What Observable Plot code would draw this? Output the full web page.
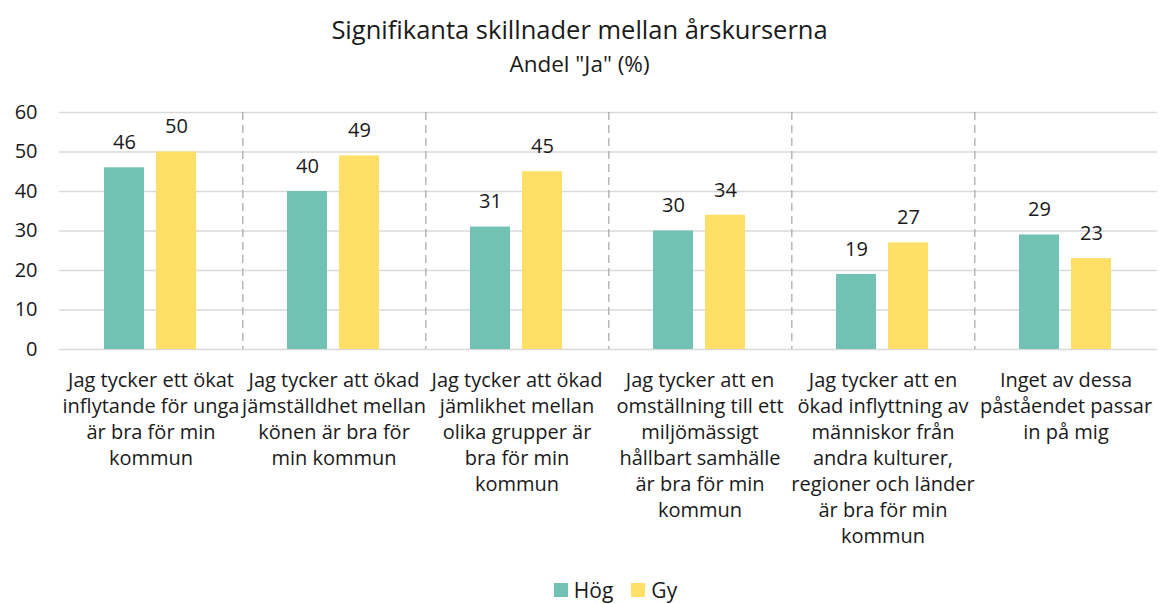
<!DOCTYPE html>
<html>
<head>
<meta charset="utf-8">
<script src="https://cdn.jsdelivr.net/npm/d3@7"></script>
<script src="https://cdn.jsdelivr.net/npm/@observablehq/plot@0.6"></script>
<style>
  html, body { margin: 0; padding: 0; background: #fff; }
  body { width: 1159px; height: 604px; position: relative; overflow: hidden; font-family: "Open Sans", sans-serif; color: #1a1a1a; }
  #title { position: absolute; left: 0; width: 1159px; top: 12px; text-align: center; font-size: 25.5px; line-height: 34px; }
  #subtitle { position: absolute; left: 0; width: 1159px; top: 49px; text-align: center; font-size: 22.5px; line-height: 30px; }
  #chart { position: absolute; left: 0; top: 85px; }
  #legend { position: absolute; left: 36px; width: 1159px; top: 577px; display: flex; justify-content: center; align-items: center; font-size: 21px; line-height: 26px; }
  .item { display: flex; align-items: center; margin: 0 9px; }
  .sw { width: 14px; height: 14px; margin-right: 6px; }
</style>
</head>
<body>
<div id="title">Signifikanta skillnader mellan årskurserna</div>
<div id="subtitle">Andel "Ja" (%)</div>
<div id="chart"></div>
<div id="legend"></div>
<script>
const categories = [
  "Jag tycker ett ökat inflytande för unga är bra för min kommun",
  "Jag tycker att ökad jämställdhet mellan könen är bra för min kommun",
  "Jag tycker att ökad jämlikhet mellan olika grupper är bra för min kommun",
  "Jag tycker att en omställning till ett miljömässigt hållbart samhälle är bra för min kommun",
  "Jag tycker att en ökad inflyttning av människor från andra kulturer, regioner och länder är bra för min kommun",
  "Inget av dessa påståendet passar in på mig"
];
const tickLabels = [
  "Jag tycker ett ökat\ninflytande för unga\när bra för min\nkommun",
  "Jag tycker att ökad\njämställdhet mellan\nkönen är bra för\nmin kommun",
  "Jag tycker att ökad\njämlikhet mellan\nolika grupper är\nbra för min\nkommun",
  "Jag tycker att en\nomställning till ett\nmiljömässigt\nhållbart samhälle\när bra för min\nkommun",
  "Jag tycker att en\nökad inflyttning av\nmänniskor från\nandra kulturer,\nregioner och länder\när bra för min\nkommun",
  "Inget av dessa\npåståendet passar\nin på mig"
];
const series = ["Hög", "Gy"];
const hog = [46, 40, 31, 30, 19, 29];
const gy = [50, 49, 45, 34, 27, 23];
const yTicks = [0, 10, 20, 30, 40, 50, 60];
const colors = ["#72c2b4", "#ffdf66"];

const data = [];
categories.forEach((c, i) => {
  data.push({cat: c, series: "Hög", value: hog[i]});
  data.push({cat: c, series: "Gy", value: gy[i]});
});

const W = 1159, H = 485, mL = 57, mR = 0, mT = 27, mB = 221;
const band = (W - mL - mR) / categories.length;

const chart = Plot.plot({
  width: W, height: H,
  marginLeft: mL, marginRight: mR, marginTop: mT, marginBottom: mB,
  style: {fontFamily: "'Open Sans', sans-serif", color: "#1a1a1a", background: "#fff"},
  fx: {domain: categories, paddingInner: 0, paddingOuter: 0, label: null},
  x: {domain: series, paddingInner: 0.226, paddingOuter: 0.85, axis: null},
  y: {domain: [0, 60], label: null},
  color: {domain: series, range: colors},
  marks: [
    Plot.gridY(yTicks, {stroke: "#d9d9d9", strokeOpacity: 1, strokeWidth: 1.5}),
    Plot.gridFx({ticks: categories.slice(0, -1), dx: band / 2, stroke: "#a6a6a6", strokeOpacity: 1, strokeWidth: 1.2, strokeDasharray: "8,5"}),
    Plot.barY(data, {fx: "cat", x: "series", y: "value", fill: "series"}),
    Plot.text(data, {fx: "cat", x: "series", y: "value", text: d => String(d.value), dy: -25, lineAnchor: "middle", fontSize: 20, fill: "#1a1a1a"}),
    Plot.axisY({ticks: yTicks, tickSize: 0, tickPadding: 22, fontSize: 20, label: null, fill: "#1a1a1a"}),
    Plot.axisFx({anchor: "bottom", tickSize: 0, tickPadding: 19, fontSize: 20, lineHeight: 1.3, label: null, fill: "#1a1a1a",
      tickFormat: d => tickLabels[categories.indexOf(d)]})
  ]
});
document.getElementById("chart").appendChild(chart);

const legend = document.getElementById("legend");
series.forEach((s, i) => {
  const item = document.createElement("div");
  item.className = "item";
  const sw = document.createElement("div");
  sw.className = "sw";
  sw.style.background = colors[i];
  const label = document.createElement("span");
  label.textContent = s;
  item.appendChild(sw);
  item.appendChild(label);
  legend.appendChild(item);
});
</script>
</body>
</html>
